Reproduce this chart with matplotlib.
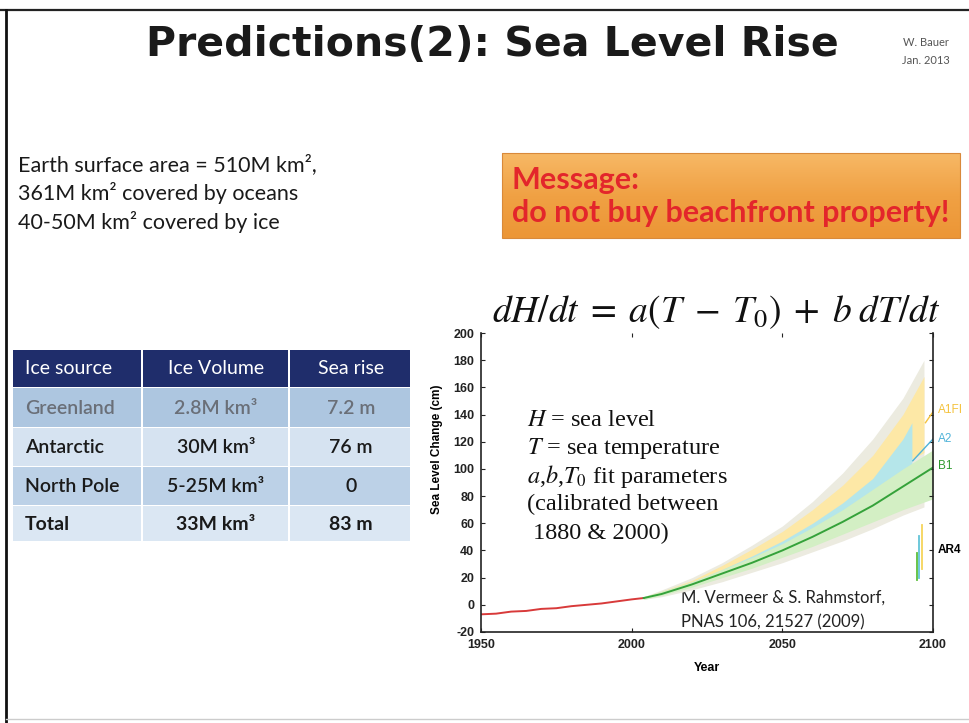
import numpy as np
import matplotlib
matplotlib.use("Agg")
import matplotlib.pyplot as plt
from matplotlib.patches import Rectangle

W, H = 969, 723

# observed sea level (red) and B1 central projection (green), cm
obs_years = [1950, 1955, 1960, 1965, 1970, 1975, 1980, 1985, 1990, 1995, 2000, 2004]
obs_level = [-7, -6.5, -5, -4.5, -3, -2.5, -1, 0, 1, 2.5, 4, 5]

proj_years = [2004, 2010, 2020, 2030, 2040, 2050, 2060, 2070, 2080, 2090, 2100]
b1_mid = [5, 8, 15, 23, 31, 40, 50, 61, 73, 87, 101]

# uncertainty envelopes
band_years = [2004, 2010, 2020, 2030, 2040, 2050, 2060, 2070, 2080, 2090, 2097]
grey_low = [4, 6, 11, 17, 24, 31, 39, 47, 56, 66, 72]
grey_high = [6, 11, 20, 31, 44, 58, 76, 97, 122, 152, 180]
a1fi_low = [5, 8, 15, 24, 34, 46, 59, 73, 88, 104, 112]
a1fi_high = [6, 10, 18, 29, 41, 54, 70, 88, 110, 140, 168]

a2_years = [2004, 2010, 2020, 2030, 2040, 2050, 2060, 2070, 2080, 2090, 2093]
a2_low = [5, 8, 14, 22, 30, 39, 49, 60, 71, 82, 86]
a2_high = [6, 9, 17, 26, 36, 47, 60, 75, 93, 122, 134]

b1_years = [2004, 2010, 2020, 2030, 2040, 2050, 2060, 2070, 2080, 2090, 2100]
b1_low = [4, 7, 13, 20, 27, 35, 43, 52, 61, 70, 78]
b1_high = [6, 10, 17, 26, 35, 45, 57, 70, 85, 100, 114]

a2_tail_years = [2093.3, 2100]
a2_tail = [106, 122]
a1fi_tail_years = [2097.5, 2100]
a1fi_tail = [134, 142]

# AR4 ranges at 2095
ar4_names = ["B1", "A2", "A1FI"]
ar4_x = [2094.6, 2095.4, 2096.2]
ar4_low = [18, 20, 26]
ar4_high = [38, 51, 59]
ar4_colors = ["#5cbf3c", "#62c4d8", "#f6d45a"]

scenario_labels = ["A1FI", "A2", "B1", "AR4"]
scenario_levels = [143, 122, 102, 40]
scenario_colors = ["#f4c23c", "#4fb3d9", "#2e9a2e", "black"]

table_header = ["Ice source", "Ice Volume", "Sea rise"]
table_rows = [["Greenland", "2.8M km³", "7.2 m"],
              ["Antarctic", "30M km³", "76 m"],
              ["North Pole", "5-25M km³", "0"],
              ["Total", "33M km³", "83 m"]]
row_colors = ["#adc6e0", "#d6e3f1", "#bcd1e7", "#dbe7f3"]

plt.rcParams["axes.unicode_minus"] = False
plt.rcParams["mathtext.fontset"] = "stix"

fig = plt.figure(figsize=(W / 100, H / 100), dpi=100)
fig.patch.set_facecolor("white")

# slide canvas in pixel coordinates
bg = fig.add_axes([0, 0, 1, 1])
bg.set_xlim(0, W)
bg.set_ylim(H, 0)
bg.axis("off")

# slide frame
bg.plot([0, W], [10, 10], color="#222222", lw=1.6)
bg.plot([6, 6], [10, H], color="#111111", lw=2.0)
bg.plot([6, W], [719, 719], color="#cccccc", lw=1.0)

bg.text(492, 45, "Predictions(2): Sea Level Rise", ha="center", va="center",
        fontsize=29.5, fontweight="bold", family="DejaVu Sans", color="#1a1a1a")
bg.text(926, 42, "W. Bauer", ha="center", va="center", fontsize=8,
        family="Lato", color="#555555")
bg.text(926, 60, "Jan. 2013", ha="center", va="center", fontsize=8,
        family="Lato", color="#555555")

intro = ["Earth surface area = 510M km²,",
         "361M km² covered by oceans",
         "40-50M km² covered by ice"]
for i, line in enumerate(intro):
    bg.text(18, 165 + i * 28.5, line, ha="left", va="center", fontsize=15.5,
            family="Lato", color="#1a1a1a")

# message box with orange gradient
grad = np.linspace(0, 1, 50).reshape(-1, 1)
bg.imshow(grad, extent=[502, 960, 238, 153], cmap=matplotlib.colors.LinearSegmentedColormap.from_list(
    "org", ["#f7b865", "#f0a144", "#ec9636"]), aspect="auto", zorder=1)
bg.add_patch(Rectangle((502, 153), 458, 85, fill=False, ec="#d9893a", lw=0.8, zorder=2))
bg.text(512, 180, "Message:", ha="left", va="center", fontsize=22,
        fontweight="bold", family="Lato", color="#e3262b", zorder=3)
bg.text(512, 213, "do not buy beachfront property!", ha="left", va="center",
        fontsize=22, fontweight="bold", family="Lato", color="#e3262b", zorder=3)

# ice table
col_edges = [13, 143, 290, 412]
row_edges = [350, 387, 427, 466, 505, 541]
for c in range(3):
    bg.add_patch(Rectangle((col_edges[c], row_edges[0]), col_edges[c + 1] - col_edges[c] - 1.5,
                           row_edges[1] - row_edges[0], fc="#1f2d6b", ec="none"))
for r, row in enumerate(table_rows):
    for c in range(3):
        bg.add_patch(Rectangle((col_edges[c], row_edges[r + 1] + 1), col_edges[c + 1] - col_edges[c] - 1.5,
                               row_edges[r + 2] - row_edges[r + 1] - 1.5, fc=row_colors[r], ec="none"))
col_x = [25, 216, 351]
col_ha = ["left", "center", "center"]
for c, h in enumerate(table_header):
    bg.text(col_x[c], (row_edges[0] + row_edges[1]) / 2, h, ha=col_ha[c], va="center",
            fontsize=14, family="Lato", color="white")
for r, row in enumerate(table_rows):
    for c, cell in enumerate(row):
        bg.text(col_x[c], (row_edges[r + 1] + row_edges[r + 2]) / 2 + 1, cell, ha=col_ha[c],
                va="center", fontsize=14, family="Lato",
                fontweight="bold" if r == 3 else "semibold",
                color="#6a6f78" if r == 0 else "#1a1a1a")

# sea level chart
ax = fig.add_axes([481 / W, 1 - 632 / H, 452 / W, 299 / H])
ax.patch.set_alpha(0)
ax.set_xlim(1950, 2100)
ax.set_ylim(-20, 200)

ax.fill_between(band_years, grey_low, grey_high, color="#ecebe0", lw=0)
ax.fill_between(band_years, a1fi_low, a1fi_high, color="#fde8a6", lw=0)
ax.fill_between(a2_years, a2_low, a2_high, color="#b5e6ea", lw=0)
ax.fill_between(b1_years, b1_low, b1_high, color="#d3efc4", lw=0)
ax.plot(obs_years, obs_level, color="#d83a3a", lw=1.4)
ax.plot(proj_years, b1_mid, color="#35a23a", lw=1.4)
ax.plot(a2_tail_years, a2_tail, color="#4fb3d9", lw=1.0)
ax.plot(a1fi_tail_years, a1fi_tail, color="#f4c23c", lw=1.0)
for x, lo, hi, col in zip(ar4_x, ar4_low, ar4_high, ar4_colors):
    ax.plot([x, x], [lo, hi], color=col, lw=1.3)

for lab, lev, col in zip(scenario_labels, scenario_levels, scenario_colors):
    ax.text(2101.5, lev, lab, ha="left", va="center", fontsize=8.5,
            family="Liberation Sans", fontweight="bold" if lab == "AR4" else "normal",
            color=col, clip_on=False)

for s in ["left", "right", "bottom"]:
    ax.spines[s].set_color("#222222")
    ax.spines[s].set_linewidth(1.2)
ax.spines["top"].set_visible(False)
ax.set_xticks([1950, 2000, 2050, 2100])
ax.set_yticks(range(-20, 201, 20))
ax.tick_params(direction="in", length=3, width=0.8, top=True, right=True,
               labelsize=9, pad=5, colors="#222222")
for lbl in ax.get_xticklabels() + ax.get_yticklabels():
    lbl.set_family("Liberation Sans")
    lbl.set_fontweight("bold")
ax.set_xlabel("Year", fontsize=9, fontweight="bold", family="Liberation Sans")
ax.xaxis.set_label_coords(0.5, -0.1)
ax.set_ylabel("Sea Level Change (cm)", fontsize=8.5, fontweight="bold", family="Liberation Sans")
ax.yaxis.set_label_coords(-0.083, 0.61)

# equation and notes
bg.text(716, 312, r"$dH/dt\;=\;a(T\;-\;T_0)\;+\;b\;dT/dt$", ha="center", va="center",
        fontsize=27, color="#111111")
notes = [r"$H$ = sea level", r"$T$ = sea temperature", r"$a$,$b$,$T_0$ fit parameters",
         "(calibrated between", " 1880 & 2000)"]
for i, line in enumerate(notes):
    bg.text(527, 420 + i * 28.3, line, ha="left", va="center", fontsize=17.5,
            family="Liberation Serif", color="#111111", zorder=5)
bg.text(681, 598, "M. Vermeer & S. Rahmstorf,", ha="left", va="center", fontsize=12,
        family="Lato", color="#222222", zorder=5)
bg.text(681, 622, "PNAS 106, 21527 (2009)", ha="left", va="center", fontsize=12,
        family="Lato", color="#222222", zorder=5)

fig.savefig("out.png", dpi=100)
